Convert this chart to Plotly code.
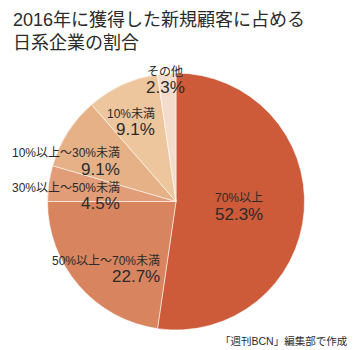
import math
import plotly.graph_objects as go

# Share of Japanese companies among new customers acquired in 2016
categories = ["70%以上", "50%以上〜70%未満", "30%以上〜50%未満", "10%以上〜30%未満", "10%未満", "その他"]
shares = [52.3, 22.7, 4.5, 9.1, 9.1, 2.3]

colors = ["#CD5A38", "#D8845F", "#E19C78", "#E6B186", "#EDC69D", "#F3DCCB"]

W, H = 353, 350
FONT = "Liberation Sans, Noto Sans CJK JP, sans-serif"
TEXT = "#2b2b2b"

# pie domain in pixels (left, right, top, bottom)
px_l, px_r, px_t, px_b = 47, 305, 73, 330
cx, cy = (px_l + px_r) / 2, (px_t + px_b) / 2
rad = min(px_r - px_l, px_b - px_t) / 2

fig = go.Figure(go.Pie(
    labels=categories,
    values=shares,
    sort=False,
    direction="clockwise",
    rotation=0,
    marker=dict(colors=colors, line=dict(color="rgba(255,255,255,0.55)", width=1)),
    textinfo="none",
    hoverinfo="label+value",
    showlegend=False,
    domain=dict(x=[px_l / W, px_r / W], y=[1 - px_b / H, 1 - px_t / H]),
))

# label anchor per slice: radial fraction, angular nudge from the slice middle,
# and which side of the text block sits on the anchor
label_r = [0.29, 0.535, 0.42, 0.525, 0.636, 0.95]
label_nudge = [2.8, -37.3, -2.2, 4.3, 11.3, -1.0]
label_anchor = ["left", "right", "right", "right", "right", "center"]

total = sum(shares)
acc = 0.0
for name, v, f, nd, an in zip(categories, shares, label_r, label_nudge, label_anchor):
    mid = (acc + v / 2) / total * 360 + nd
    acc += v
    t = math.radians(mid)
    x = (cx + rad * f * math.sin(t)) / W
    y = cy - rad * f * math.cos(t)
    fig.add_annotation(
        x=x, y=1 - (y - 8) / H, xref="paper", yref="paper",
        xanchor=an, yanchor="middle", showarrow=False,
        text=name, font=dict(family=FONT, size=12, color=TEXT),
    )
    fig.add_annotation(
        x=x, y=1 - (y + 8) / H, xref="paper", yref="paper",
        xanchor=an, yanchor="middle", showarrow=False,
        text=f"{v:.1f}%", font=dict(family=FONT, size=17, color=TEXT),
    )

fig.add_annotation(
    x=11 / W, y=1 - 8 / H, xref="paper", yref="paper",
    xanchor="left", yanchor="top", align="left", showarrow=False,
    text="2016年に獲得した新規顧客に占める<br>日系企業の割合",
    font=dict(family=FONT, size=18, color=TEXT),
)
fig.add_annotation(
    x=350 / W, y=1 - 341 / H, xref="paper", yref="paper",
    xanchor="right", yanchor="middle", showarrow=False,
    text="「週刊BCN」編集部で作成",
    font=dict(family=FONT, size=10.5, color=TEXT),
)

fig.update_layout(
    width=W, height=H,
    margin=dict(l=0, r=0, t=0, b=0),
    paper_bgcolor="white", plot_bgcolor="white",
)

fig.write_html("out.html", config={"displayModeBar": False})
